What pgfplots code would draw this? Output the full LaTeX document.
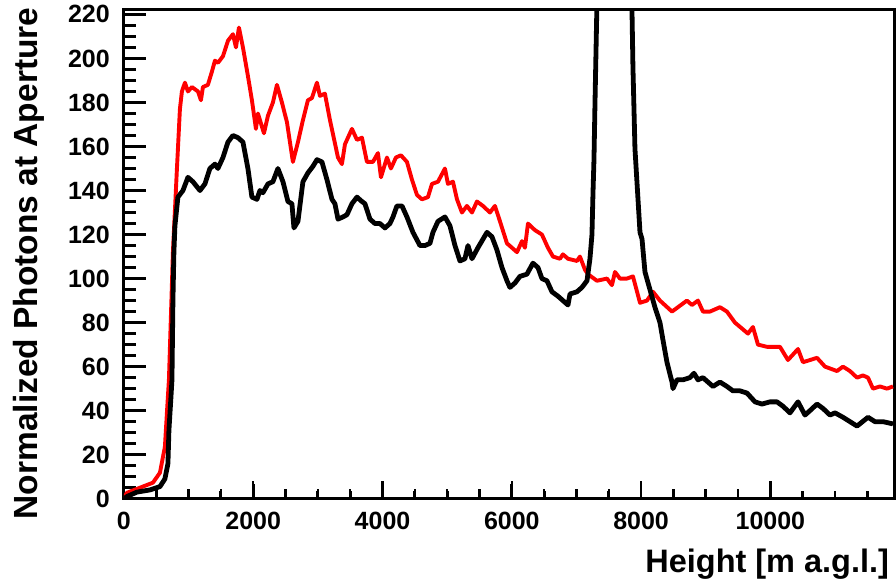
\documentclass[border=0pt]{standalone}
\usepackage{fontspec}
\setmainfont{Liberation Sans}
\usepackage{pgfplots}
\pgfplotsset{compat=1.18}
\begin{document}
\begin{tikzpicture}
\begin{axis}[
  scale only axis, width=771pt, height=489pt,
  xmin=0, xmax=11920, ymin=0, ymax=222,
  xtick={0,2000,4000,6000,8000,10000},
  ytick={0,20,...,220},
  tick pos=left, tick align=inside,
  major tick length=18pt, minor tick length=10pt,
  minor x tick num=3, minor y tick num=3,
  tick style={black, line width=2.5pt},
  axis line style={line width=3pt},
  scaled x ticks=false,
  /pgf/number format/set thousands separator={},
  /pgf/number format/assume math mode=true,
  tick label style={font=\fontsize{25}{25}\selectfont\bfseries, inner sep=0pt},
  yticklabel style={xshift=-14pt},
  xticklabel style={yshift=-13pt},
  xlabel={Height [m a.g.l.]},
  ylabel={Normalized Photons at Aperture},
  every axis x label/.style={at={(axis description cs:0.9974,-0.1513)}, anchor=base east, font=\fontsize{32.5}{32.5}\selectfont\bfseries},
  every axis y label/.style={at={(axis description cs:-0.1128,1.012)}, rotate=90, anchor=base east, font=\fontsize{33.5}{33.5}\selectfont\bfseries},
]
% tick marks of the ROOT-style frame (major and minor, inside)
\addplot[black, line width=2.8pt, unbounded coords=jump] table {
0 0
0 6.8
nan nan
2000 0
2000 6.8
nan nan
4000 0
4000 6.8
nan nan
6000 0
6000 6.8
nan nan
8000 0
8000 6.8
nan nan
10000 0
10000 6.8
nan nan
500 0
500 3.6
nan nan
1000 0
1000 3.6
nan nan
1500 0
1500 3.6
nan nan
2500 0
2500 3.6
nan nan
3000 0
3000 3.6
nan nan
3500 0
3500 3.6
nan nan
4500 0
4500 3.6
nan nan
5000 0
5000 3.6
nan nan
5500 0
5500 3.6
nan nan
6500 0
6500 3.6
nan nan
7000 0
7000 3.6
nan nan
7500 0
7500 3.6
nan nan
8500 0
8500 3.6
nan nan
9000 0
9000 3.6
nan nan
9500 0
9500 3.6
nan nan
10500 0
10500 3.6
nan nan
11000 0
11000 3.6
nan nan
11500 0
11500 3.6
nan nan
0 20
340 20
nan nan
0 40
340 40
nan nan
0 60
340 60
nan nan
0 80
340 80
nan nan
0 100
340 100
nan nan
0 120
340 120
nan nan
0 140
340 140
nan nan
0 160
340 160
nan nan
0 180
340 180
nan nan
0 200
340 200
nan nan
0 220
340 220
nan nan
0 5
186 5
nan nan
0 10
186 10
nan nan
0 15
186 15
nan nan
0 25
186 25
nan nan
0 30
186 30
nan nan
0 35
186 35
nan nan
0 45
186 45
nan nan
0 50
186 50
nan nan
0 55
186 55
nan nan
0 65
186 65
nan nan
0 70
186 70
nan nan
0 75
186 75
nan nan
0 85
186 85
nan nan
0 90
186 90
nan nan
0 95
186 95
nan nan
0 105
186 105
nan nan
0 110
186 110
nan nan
0 115
186 115
nan nan
0 125
186 125
nan nan
0 130
186 130
nan nan
0 135
186 135
nan nan
0 145
186 145
nan nan
0 150
186 150
nan nan
0 155
186 155
nan nan
0 165
186 165
nan nan
0 170
186 170
nan nan
0 175
186 175
nan nan
0 185
186 185
nan nan
0 190
186 190
nan nan
0 195
186 195
nan nan
0 205
186 205
nan nan
0 210
186 210
nan nan
0 215
186 215
};
\addplot[red, line width=3.9pt, line join=round] table {
0 0.5
46 2.7
248 5
449 7.3
557 11.8
634 23.6
665 39
696 54
758 112
820 150
866 177
897 185
944 189
990 185
1052 187
1145 185
1191 181
1222 187
1299 188
1361 194
1408 199
1454 198
1532 201
1609 208
1686 211
1733 205
1779 214
1841 205
1918 192
1980 181
2042 168
2073 175
2166 166
2228 174
2305 180
2367 188
2444 180
2522 171
2614 153
2692 162
2769 172
2846 181
2908 182
2986 189
3032 183
3109 184
3187 172
3311 155
3372 152
3419 161
3527 168
3605 163
3682 164
3759 153
3852 153
3929 157
3976 146
4069 155
4130 150
4208 155
4285 156
4378 153
4455 145
4533 138
4610 136
4703 137
4765 143
4858 144
4966 150
5012 143
5090 144
5152 136
5229 130
5306 133
5384 130
5461 135
5554 133
5662 130
5739 133
5817 126
5925 116
6080 112
6157 117
6203 114
6250 125
6358 122
6466 120
6559 114
6637 110
6745 109
6791 111
6869 109
7008 108
7054 110
7132 104
7178 102
7317 99
7472 100
7549 97
7596 103
7673 100
7781 100
7874 101
7983 89
8091 90
8184 94
8292 90
8478 85
8570 87
8709 90
8787 88
8880 90
8957 85
9065 85
9220 87
9328 85
9452 80
9653 75
9730 78
9808 70
9947 69
10025 69
10148 69
10272 63
10427 68
10504 62
10721 64
10845 60
11030 58
11123 60
11231 58
11340 55
11432 56
11510 55
11587 50
11695 51
11804 50
11896 51
};
\addplot[black, line width=4.8pt, line join=round] table {
0 0
46 1
201 3
402 4
557 5.5
634 9
681 16
696 31
727 46
743 54
758 90
773 112
789 124
835 137
913 140
990 146
1067 144
1176 140
1253 143
1330 150
1408 152
1454 150
1532 155
1609 162
1686 165
1764 164
1841 162
1918 150
1980 137
2058 136
2104 140
2150 139
2228 143
2305 144
2382 150
2460 144
2537 135
2599 134
2630 123
2692 126
2769 144
2846 148
2924 151
2986 154
3063 153
3140 145
3218 136
3264 134
3311 127
3388 128
3450 129
3527 134
3605 137
3682 135
3728 134
3806 127
3883 125
3960 125
4038 123
4115 125
4162 128
4223 133
4301 133
4378 128
4471 121
4579 115
4656 115
4734 116
4780 121
4858 126
4966 128
5043 124
5121 115
5198 108
5275 109
5322 115
5384 109
5476 114
5616 121
5693 119
5770 113
5848 105
5925 99
5971 96
6049 98
6126 101
6234 102
6327 107
6405 105
6466 100
6544 99
6621 94
6714 92
6791 90
6869 88
6900 93
7008 94
7085 96
7163 99
7209 109
7240 120
7256 139
7271 154
7287 180
7317 225
7379 330
7456 420
7580 460
7704 420
7797 330
7843 240
7859 222
7874 196
7905 159
7983 121
8014 118
8060 103
8137 95
8214 87
8292 80
8339 72
8400 62
8478 53
8493 50
8555 54
8648 54
8756 55
8818 57
8880 54
8957 55
9034 53
9112 51
9220 53
9328 51
9421 49
9530 49
9638 48
9762 44
9870 43
9994 44
10102 44
10195 42
10303 39
10427 44
10535 38
10612 40
10721 43
10814 41
10922 38
11000 39
11123 37
11340 33
11510 37
11618 35
11742 35
11896 34
};
\end{axis}
\path (-124pt,-87pt) rectangle (772pt,499pt);
\end{tikzpicture}
\end{document}
